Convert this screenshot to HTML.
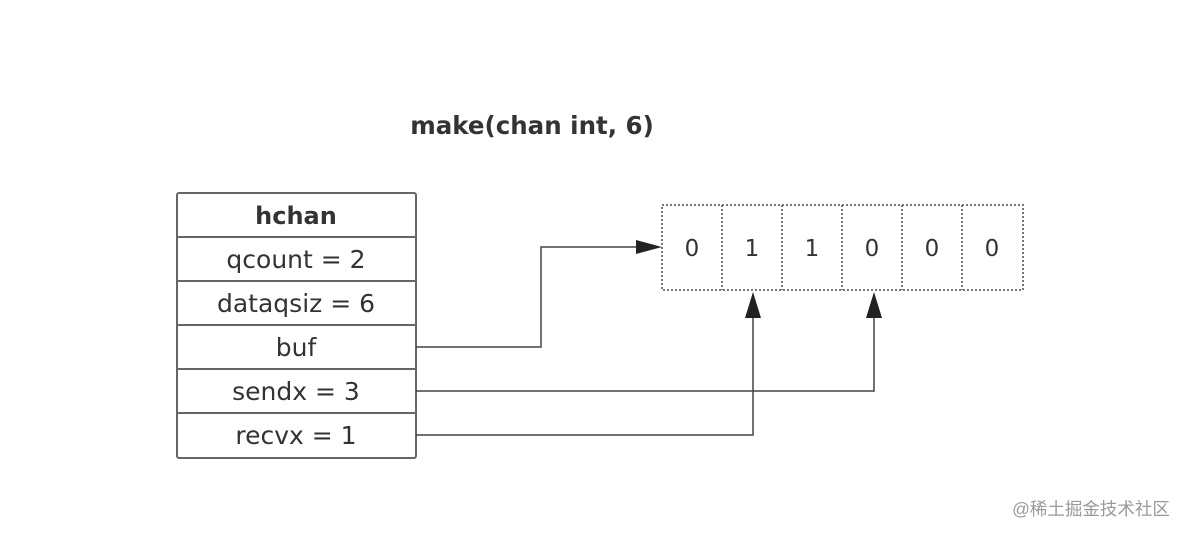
<!DOCTYPE html>
<html><head><meta charset="utf-8"><style>
body{margin:0;width:1190px;height:536px;background:#fff;overflow:hidden}
svg text{font-family:"DejaVu Sans","Liberation Sans",sans-serif;fill:#333}
</style></head><body>
<svg width="1190" height="536" viewBox="0 0 1190 536">
<text x="532" y="134" font-size="24.5" font-weight="bold" text-anchor="middle" fill="#222">make(chan int, 6)</text>
<g stroke="#666" stroke-width="2" fill="#fff">
<rect x="177" y="193" width="239" height="265" rx="2"/>
<line x1="177" y1="237" x2="416" y2="237"/>
<line x1="177" y1="281" x2="416" y2="281"/>
<line x1="177" y1="325" x2="416" y2="325"/>
<line x1="177" y1="369" x2="416" y2="369"/>
<line x1="177" y1="413" x2="416" y2="413"/>
</g>
<g font-size="25" text-anchor="middle">
<text x="296" y="224" font-weight="bold" fill="#222" font-size="24">hchan</text>
<text x="296" y="268">qcount = 2</text>
<text x="296" y="312">dataqsiz = 6</text>
<text x="296" y="356">buf</text>
<text x="296" y="400">sendx = 3</text>
<text x="296" y="444">recvx = 1</text>
</g>
<g stroke="#777" stroke-width="2" stroke-dasharray="2,2" fill="none">
<rect x="662" y="205" width="361" height="85"/>
<line x1="722" y1="205" x2="722" y2="290"/>
<line x1="782" y1="205" x2="782" y2="290"/>
<line x1="842" y1="205" x2="842" y2="290"/>
<line x1="902" y1="205" x2="902" y2="290"/>
<line x1="962" y1="205" x2="962" y2="290"/>
</g>
<g font-size="23" text-anchor="middle" fill="#444">
<text x="692" y="256">0</text><text x="752" y="256">1</text><text x="812" y="256">1</text>
<text x="872" y="256">0</text><text x="932" y="256">0</text><text x="992" y="256">0</text>
</g>
<g stroke="#444" stroke-width="1.5" fill="none">
<polyline points="416,347 541,347 541,247 646,247"/>
<polyline points="416,391 874,391 874,316"/>
<polyline points="416,435 753,435 753,316"/>
</g>
<g fill="#222">
<polygon points="662,247 636,240 636,254"/>
<polygon points="874,292 866,318 882,318"/>
<polygon points="753,292 745,318 761,318"/>
</g>
<text x="1091" y="515" font-size="17.5" text-anchor="middle" style="font-family:'Liberation Sans','Noto Sans CJK SC',sans-serif;fill:#9a9a9a">@稀土掘金技术社区</text>
</svg>
</body></html>
